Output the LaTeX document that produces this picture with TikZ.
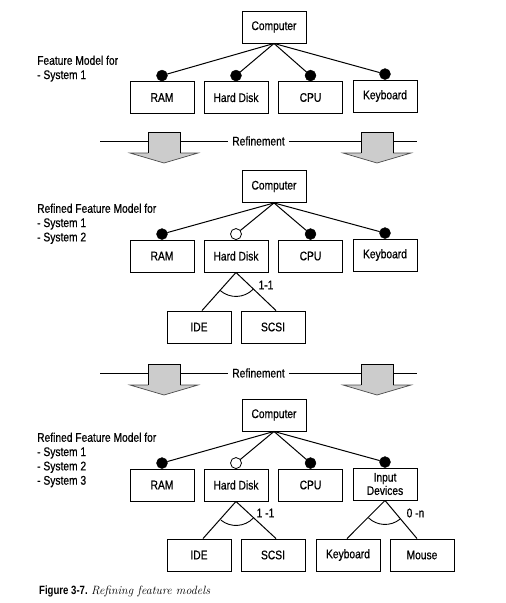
\documentclass[tikz,border=0pt]{standalone}
\usepackage{fontspec}
\newfontfamily\lsans{Liberation Sans}[FakeStretch=0.82,FakeBold=0.6]
\newfontfamily\lsansb{Liberation Sans Bold}[FakeStretch=0.8]
\usetikzlibrary{calc}
\begin{document}
\begin{tikzpicture}[x=1pt,y=-1pt,
  box/.style={draw, line width=0.9pt, minimum width=64pt, minimum height=32pt,
    inner sep=0pt, font=\lsans\fontsize{12.5}{13.3}\selectfont, align=center},
  fullb/.style={circle, draw, fill=black, minimum size=11pt, inner sep=0pt, outer sep=0pt, anchor=south},
  openb/.style={circle, draw, fill=white, line width=0.8pt, minimum size=11pt, inner sep=0pt, outer sep=0pt, anchor=south},
  conn/.style={line width=1pt},
  lbl/.style={font=\lsans\fontsize{12.5}{14.3}\selectfont, align=left, anchor=north west, inner sep=0pt},
  card/.style={font=\lsans\fontsize{12.5}{13}\selectfont, inner sep=0pt},
  reftext/.style={font=\lsans\fontsize{12.5}{13}\selectfont, inner xsep=4pt, inner ysep=0pt},
  pics/refarrow/.style={code={
    \fill[gray!40] (-16,-9) -- (16,-9) -- (16,12) -- (34,12) -- (0,22) -- (-34,12) -- (-16,12) -- cycle;
    \draw[line width=0.7pt, gray!60!black] (-16,12) -- (-34,12) -- (0,22) -- (34,12) -- (16,12);
    \draw[line width=0.9pt] (-16,12) -- (-16,-9) -- (16,-9) -- (16,12);
  }}
]
\useasboundingbox (0,0) rectangle (506,603);

% ---------- Section 1 ----------
\node[box] (comp1) at (274,27) {Computer};
\node[box] (ram1) at (162,97.5) {RAM};
\node[box] (hd1) at (236,97.5) {Hard Disk};
\node[box] (cpu1) at (310.5,97.5) {CPU};
\node[box] (kb1) at (385,96) {Keyboard};
\node[fullb] (b1ram) at (ram1.north) {};
\node[fullb] (b1hd) at (hd1.north) {};
\node[fullb] (b1cpu) at (cpu1.north) {};
\node[fullb] (b1kb) at (kb1.north) {};
\foreach \b in {b1ram,b1hd,b1cpu,b1kb} \draw[conn] (comp1.south) -- (\b);
\node[lbl] (lab1) at (37,55.5) {Feature Model for\\- System 1};

% ---------- Refinement 1 ----------
\coordinate (r1l) at (100,141);
\coordinate (r1r) at (417,141);
\node[reftext] (ref1) at (258.5,141) {Refinement};
\draw[conn] (r1l) -- (ref1.west);
\draw[conn] (ref1.east) -- (r1r);
\pic at (164,141) {refarrow};
\pic at (377,141) {refarrow};

% ---------- Section 2 ----------
\node[box] (comp2) at (274,186.5) {Computer};
\node[box] (ram2) at (162,256) {RAM};
\node[box] (hd2) at (236,256) {Hard Disk};
\node[box] (cpu2) at (310.5,256) {CPU};
\node[box] (kb2) at (385,255) {Keyboard};
\node[fullb] (b2ram) at (ram2.north) {};
\node[openb] (b2hd) at (hd2.north) {};
\node[fullb] (b2cpu) at (cpu2.north) {};
\node[fullb] (b2kb) at (kb2.north) {};
\foreach \b in {b2ram,b2hd,b2cpu,b2kb} \draw[conn] (comp2.south) -- (\b);
\node[lbl] (lab2) at (37,203.5) {Refined Feature Model for\\- System 1\\- System 2};
\node[box] (ide2) at (199,327) {IDE};
\node[box] (scsi2) at (273,327) {SCSI};
\draw[conn] (hd2.south) -- ($(ide2.north)+(3,0)$);
\draw[conn] (hd2.south) -- ($(scsi2.north)+(3,0)$);
\draw[line width=0.9pt] ($(hd2.south)+(45:24)$) arc[start angle=45, end angle=131, radius=24];
\node[card] (c2) at (266,285) {1-1};

% ---------- Refinement 2 ----------
\coordinate (r2l) at (100,373);
\coordinate (r2r) at (417,373);
\node[reftext] (ref2) at (258.5,373) {Refinement};
\draw[conn] (r2l) -- (ref2.west);
\draw[conn] (ref2.east) -- (r2r);
\pic at (164,373) {refarrow};
\pic at (377,373) {refarrow};

% ---------- Section 3 ----------
\node[box] (comp3) at (274,415) {Computer};
\node[box] (ram3) at (162,485) {RAM};
\node[box] (hd3) at (236,485) {Hard Disk};
\node[box] (cpu3) at (310.5,485) {CPU};
\node[box] (inp3) at (385,484) {Input\\Devices};
\node[fullb] (b3ram) at (ram3.north) {};
\node[openb] (b3hd) at (hd3.north) {};
\node[fullb] (b3cpu) at (cpu3.north) {};
\node[fullb] (b3inp) at (inp3.north) {};
\foreach \b in {b3ram,b3hd,b3cpu,b3inp} \draw[conn] (comp3.south) -- (\b);
\node[lbl] (lab3) at (37,432.5) {Refined Feature Model for\\- System 1\\- System 2\\- System 3};
\node[box] (ide3) at (199,555) {IDE};
\node[box] (scsi3) at (273,555) {SCSI};
\node[box] (kb3) at (348,555) {Keyboard};
\node[box] (mouse3) at (422,555) {Mouse};
\draw[conn] (hd3.south) -- ($(ide3.north)+(4,0)$);
\draw[conn] (hd3.south) -- ($(scsi3.north)+(3,0)$);
\draw[line width=0.9pt] ($(hd3.south)+(44:24)$) arc[start angle=44, end angle=129, radius=24];
\node[card] (c3a) at (265.5,513) {1 -1};
\draw[conn] (inp3.south) -- ($(kb3.north)+(-1,0)$);
\draw[conn] (inp3.south) -- ($(mouse3.north)+(-5,0)$);
\draw[line width=0.9pt] ($(inp3.south)+(51:24)$) arc[start angle=51, end angle=134, radius=24];
\node[card] (c3b) at (415.5,513) {0 -n};

% ---------- Caption ----------
\node[anchor=base west, inner sep=0pt] (cap) at (39,594)
  {{\lsansb\fontsize{12}{13}\selectfont Figure 3-7.}\ {\itshape\fontsize{12}{14}\selectfont Refining feature models}};
\end{tikzpicture}
\end{document}
